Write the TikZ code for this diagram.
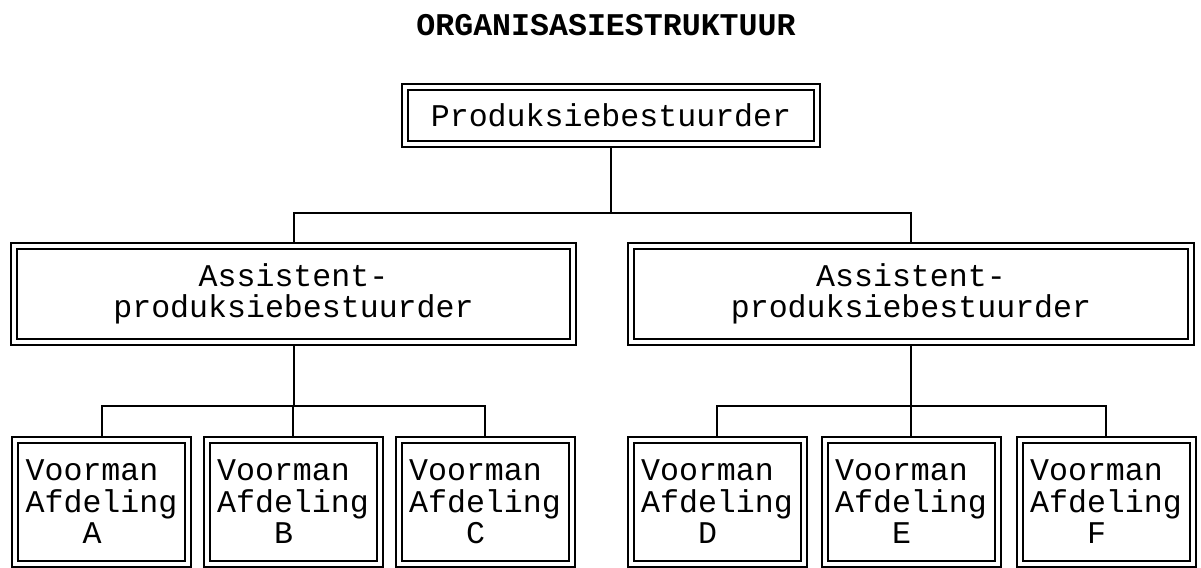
\documentclass[tikz,border=0pt]{standalone}
\usepackage{fontspec}
\setmonofont{Liberation Mono}
\usetikzlibrary{positioning}

\tikzset{
  box/.style = {draw, double, double distance = 2pt, line width = 1pt,
                outer sep = 2pt, inner sep = 0pt,
                font = \ttfamily\fontsize{15.8}{15.8}\selectfont},
  link/.style = {line width = 1pt}
}

\begin{document}
\begin{tikzpicture}[x = 0.5pt, y = -0.5pt]
  \useasboundingbox (0,0) rectangle (1201,568);

  \node [font = \ttfamily\bfseries\fontsize{15.8}{16}\selectfont]
        (title) at (606,25) {ORGANISASIESTRUKTUUR};

  \node [box, minimum width = 206pt, minimum height = 28.5pt]
        (prod) at (611,115.5) {Produksiebestuurder};

  \node [box, align = center, minimum width = 279.5pt, minimum height = 48pt]
        (asl) at (293.5,294) {Assistent-\\produksiebestuurder};
  \node [box, align = center, minimum width = 280pt, minimum height = 48pt]
        (asr) at (911,294) {Assistent-\\produksiebestuurder};

  \foreach \x/\ltr in {101.5/A, 293/B, 485/C, 717/D, 911/E, 1106/F}
    \node [box, align = left, minimum width = 86.5pt, minimum height = 62pt]
          (v\ltr) at (\x,502) {Voorman\\Afdeling\\\phantom{Afd}\ltr};

  % verbindings
  \coordinate (jt) at (611,213);
  \coordinate (jl) at (293.5,406);
  \coordinate (jr) at (911,406);
  \draw [link] (prod.south) -- (jt);
  \draw [link] (asl.north) |- (jt) -| (asr.north);
  \draw [link] (asl.south) -- (jl);
  \draw [link] (asr.south) -- (jr);
  \foreach \ltr in {A,B,C} \draw [link] (jl) -| (v\ltr.north);
  \foreach \ltr in {D,E,F} \draw [link] (jr) -| (v\ltr.north);
\end{tikzpicture}
\end{document}
